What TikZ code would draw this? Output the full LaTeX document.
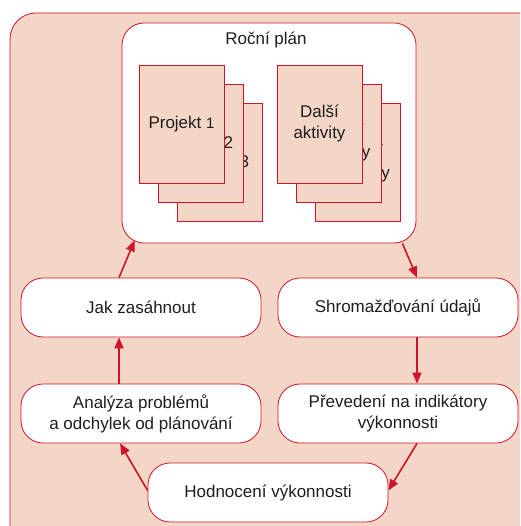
\documentclass[tikz,border=0pt]{standalone}
\usepackage{fontspec}
\setmainfont{Liberation Sans}
\usetikzlibrary{arrows.meta}
\definecolor{cycred}{RGB}{208,18,42}
\definecolor{peach}{RGB}{243,214,198}
\definecolor{inkgray}{RGB}{30,30,30}
\begin{document}
\begin{tikzpicture}[x=1pt,y=-1pt,
  every node/.style={text=inkgray,font=\fontsize{17}{21}\selectfont,align=center},
  flowbox/.style={draw=cycred,line width=0.8pt,fill=white,rounded corners=22pt,
    minimum width=240pt,minimum height=59pt,inner sep=0pt},
  sheet/.style={draw=cycred,line width=0.8pt,fill=peach,
    minimum width=85pt,minimum height=118pt,inner sep=0pt},
  flow/.style={draw=cycred,line width=1.6pt,-{Triangle[length=11pt,width=9pt]}}]
\useasboundingbox (0,0) rectangle (520,526);
\clip (0,0) rectangle (520,526);
% background panel
\draw[cycred,line width=0.8pt,fill=peach,rounded corners=26pt] (10,13) rectangle (560,570);
% yearly plan frame
\node[draw=cycred,line width=0.8pt,fill=white,rounded corners=22pt,
  minimum width=294pt,minimum height=220pt,inner sep=0pt] (plan) at (269,133) {};
\node (plantitle) at (266,40) {Roční plán};
% project sheets, back to front
\node[sheet] (p3) at (219.5,162) {};
\node (p3t) at ([xshift=-4pt,yshift=-1pt]p3.center) {Projekt 3};
\node[sheet] (p2) at (200.5,143) {};
\node (p2t) at ([xshift=-1pt,yshift=-1pt]p2.center) {Projekt 2};
\node[sheet] (p1) at (181.5,124) {Projekt {\fontsize{15}{15}\selectfont 1}};
% activity sheets, back to front
\node[sheet] (a3) at (357.5,162) {};
\node (a3t) at ([xshift=6.5pt,yshift=-2pt]a3.center) {Další\\aktivity};
\node[sheet] (a2) at (338.5,143) {};
\node (a2t) at ([xshift=6pt]a2.center) {Další\\aktivity};
\node[sheet] (a1) at (319.5,124) {Další\\aktivity};
% cycle steps
\node[flowbox] (jak) at (141,307.5) {Jak zasáhnout};
\node[flowbox] (shrom) at (398,307.5) {Shromažďování údajů};
\node[flowbox] (anal) at (141,413.5) {Analýza problémů\\a odchylek od plánování};
\node[flowbox] (prev) at (398,413.5) {Převedení na indikátory\\výkonnosti};
\node[flowbox] (hodn) at (268,492.5) {Hodnocení výkonnosti};
% connectors
\draw[flow] ([xshift=-22pt]jak.north) -- ([xshift=13pt,yshift=3pt]plan.south west);
\draw[flow] ([xshift=-14pt]plan.south east) -- ([xshift=19pt]shrom.north);
\draw[flow] ([xshift=19pt]shrom.south) -- ([xshift=19pt]prev.north);
\draw[flow] ([xshift=19pt]prev.south) -- ([yshift=2pt]hodn.east);
\draw[flow] ([yshift=2pt]hodn.west) -- ([xshift=-21pt]anal.south);
\draw[flow] ([xshift=-22pt]anal.north) -- ([xshift=-22pt]jak.south);
\end{tikzpicture}
\end{document}
